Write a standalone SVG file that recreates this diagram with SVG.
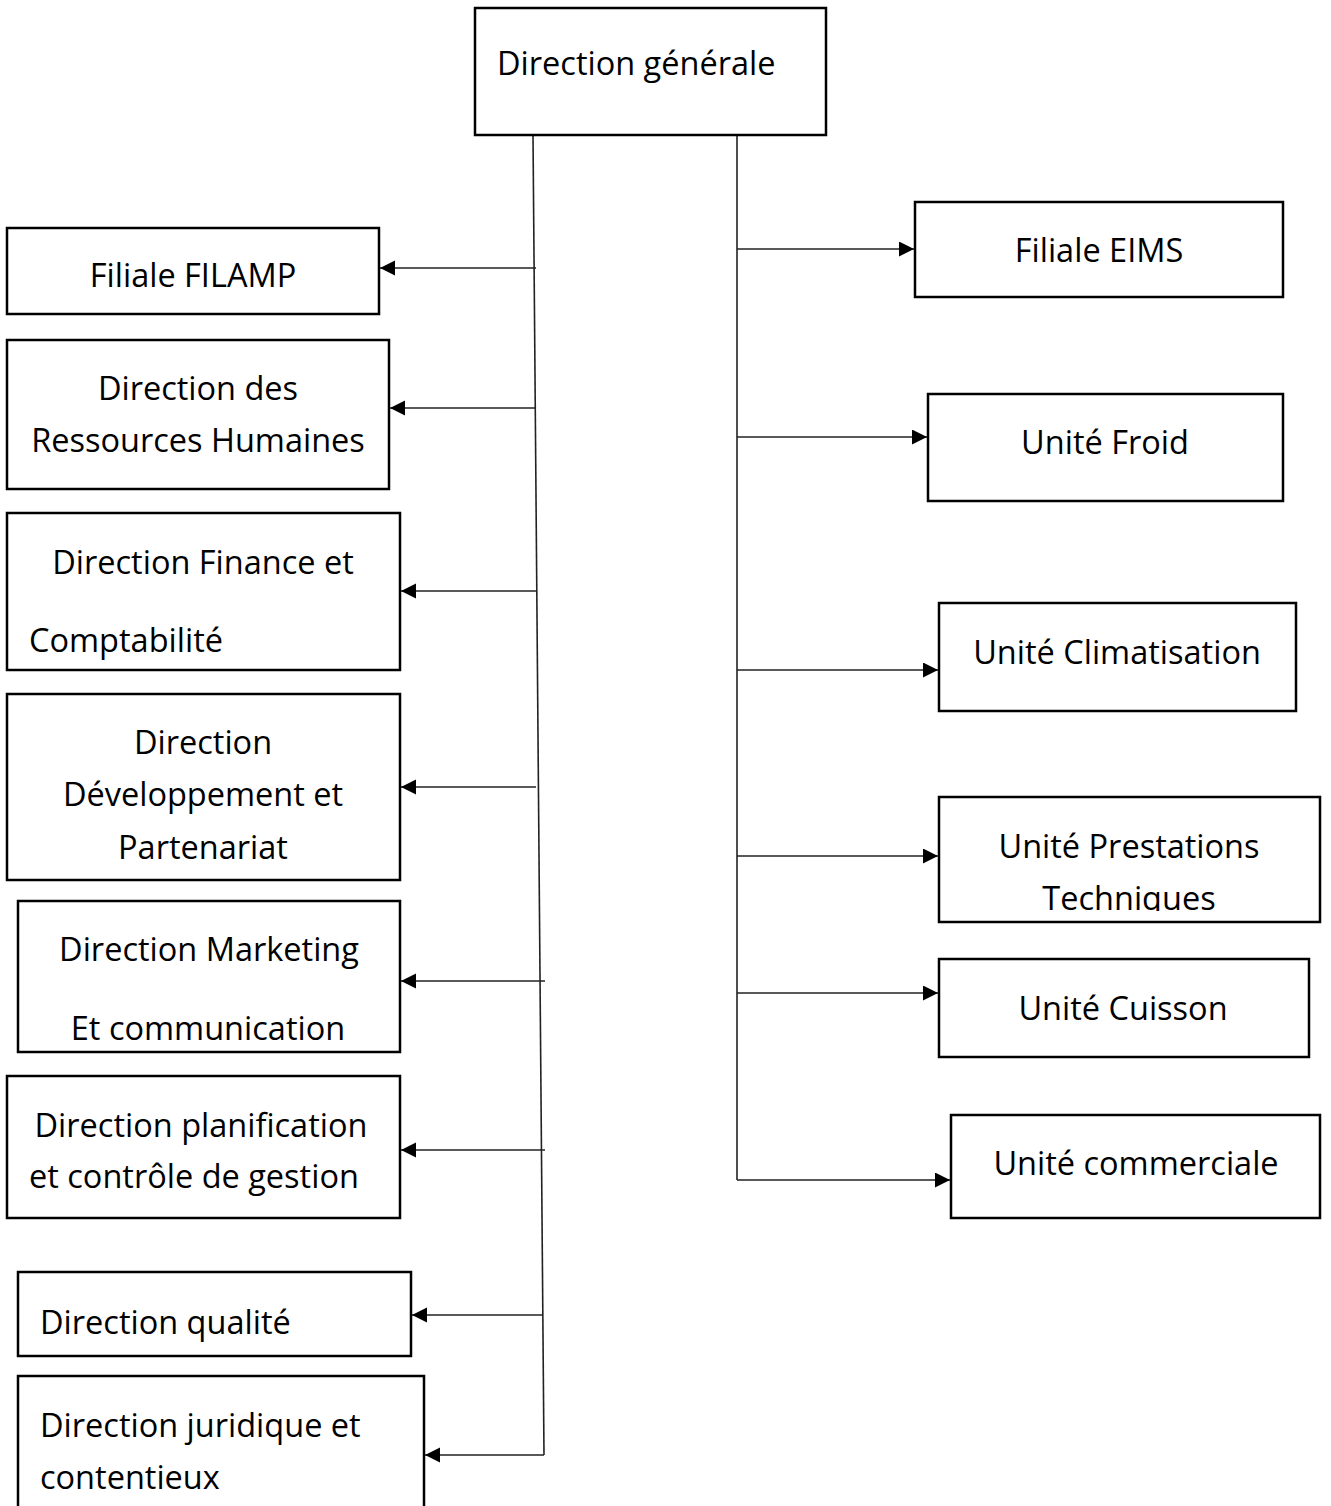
<svg xmlns="http://www.w3.org/2000/svg" width="1331" height="1506" viewBox="0 0 1331 1506">
<style>
.box{fill:#fff;stroke:#000;stroke-width:2.5}
.t{font-family:"Open Sans","Noto Sans","Liberation Sans",sans-serif;font-size:32.5px;fill:#000}
.c{text-anchor:middle}
.ln{stroke:#222;stroke-width:1.6;fill:none}
</style>
<defs>
<marker id="ah" markerUnits="userSpaceOnUse" markerWidth="17" markerHeight="17" refX="15" refY="7.5" orient="auto">
<path d="M0,0 L15,7.5 L0,15 z" fill="#000"/>
</marker>
<clipPath id="clipPT"><rect x="939" y="797" width="381" height="114"/></clipPath>
</defs>
<rect width="1331" height="1506" fill="#fff"/>
<g id="connectors">
<line class="ln" x1="533" y1="135" x2="544" y2="1455"/>
<line class="ln" x1="737" y1="135" x2="737" y2="1180"/>
<line class="ln" x1="536" y1="268" x2="380" y2="268" marker-end="url(#ah)"/>
<line class="ln" x1="536" y1="408" x2="390" y2="408" marker-end="url(#ah)"/>
<line class="ln" x1="536" y1="591" x2="401" y2="591" marker-end="url(#ah)"/>
<line class="ln" x1="536" y1="787" x2="401" y2="787" marker-end="url(#ah)"/>
<line class="ln" x1="545" y1="981" x2="401" y2="981" marker-end="url(#ah)"/>
<line class="ln" x1="545" y1="1150" x2="401" y2="1150" marker-end="url(#ah)"/>
<line class="ln" x1="543" y1="1315" x2="412" y2="1315" marker-end="url(#ah)"/>
<line class="ln" x1="544" y1="1455" x2="425" y2="1455" marker-end="url(#ah)"/>
<line class="ln" x1="737" y1="249" x2="914" y2="249" marker-end="url(#ah)"/>
<line class="ln" x1="737" y1="437" x2="927" y2="437" marker-end="url(#ah)"/>
<line class="ln" x1="737" y1="670" x2="938" y2="670" marker-end="url(#ah)"/>
<line class="ln" x1="737" y1="856" x2="938" y2="856" marker-end="url(#ah)"/>
<line class="ln" x1="737" y1="993" x2="938" y2="993" marker-end="url(#ah)"/>
<line class="ln" x1="737" y1="1180" x2="950" y2="1180" marker-end="url(#ah)"/>
</g>
<g id="n-dg"><rect class="box" x="475" y="8" width="351" height="127"/><text class="t" x="497" y="75">Direction générale</text></g>
<g id="n-filamp"><rect class="box" x="7" y="228" width="372" height="86"/><text class="t c" x="193" y="287">Filiale FILAMP</text></g>
<g id="n-drh"><rect class="box" x="7" y="340" width="382" height="149"/><text class="t c" x="198" y="400">Direction des</text><text class="t c" x="198" y="452">Ressources Humaines</text></g>
<g id="n-dfc"><rect class="box" x="7" y="513" width="393" height="157"/><text class="t c" x="203" y="574">Direction Finance et</text><text class="t" x="29" y="652">Comptabilité</text></g>
<g id="n-ddp"><rect class="box" x="7" y="694" width="393" height="186"/><text class="t c" x="203" y="754">Direction</text><text class="t c" x="203" y="806">Développement et</text><text class="t c" x="203" y="859">Partenariat</text></g>
<g id="n-dmc"><rect class="box" x="18" y="901" width="382" height="151"/><text class="t c" x="209" y="961">Direction Marketing</text><text class="t c" x="208" y="1040">Et communication</text></g>
<g id="n-dpcg"><rect class="box" x="7" y="1076" width="393" height="142"/><text class="t c" x="201" y="1137">Direction planification</text><text class="t" x="29" y="1188">et contrôle de gestion</text></g>
<g id="n-dq"><rect class="box" x="18" y="1272" width="393" height="84"/><text class="t" x="40" y="1334">Direction qualité</text></g>
<g id="n-djc"><rect class="box" x="18" y="1376" width="406" height="140"/><text class="t" x="40" y="1437">Direction juridique et</text><text class="t" x="40" y="1489">contentieux</text></g>
<g id="n-eims"><rect class="box" x="915" y="202" width="368" height="95"/><text class="t c" x="1099" y="262">Filiale EIMS</text></g>
<g id="n-froid"><rect class="box" x="928" y="394" width="355" height="107"/><text class="t c" x="1105" y="454">Unité Froid</text></g>
<g id="n-clim"><rect class="box" x="939" y="603" width="357" height="108"/><text class="t c" x="1117" y="664">Unité Climatisation</text></g>
<g id="n-upt"><rect class="box" x="939" y="797" width="381" height="125"/><g clip-path="url(#clipPT)"><text class="t c" x="1129" y="858">Unité Prestations</text><text class="t c" x="1129" y="910">Techniques</text></g></g>
<g id="n-cuisson"><rect class="box" x="939" y="959" width="370" height="98"/><text class="t c" x="1123" y="1020">Unité Cuisson</text></g>
<g id="n-com"><rect class="box" x="951" y="1115" width="369" height="103"/><text class="t c" x="1136" y="1175">Unité commerciale</text></g>
</svg>
